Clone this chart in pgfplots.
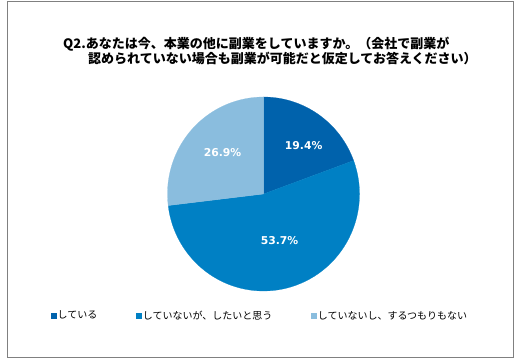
\documentclass[border=0pt]{standalone}
\usepackage{pgfplots}
\pgfplotsset{compat=1.18}
\usepackage{pgfplotstable}
\usepackage{fontspec}
\setmainfont{Noto Sans CJK JP}
\newfontfamily\jp{Noto Sans CJK JP}
\newfontfamily\dv{DejaVu Sans}
\definecolor{cA}{HTML}{0062AC}
\definecolor{cB}{HTML}{0080C4}
\definecolor{cC}{HTML}{8ABDDE}
\definecolor{frame}{HTML}{808080}
\pgfplotstableread{
label value
a 19.4
b 53.7
c 26.9
}\piedata
\begin{document}
\begin{tikzpicture}
\useasboundingbox (0pt,0pt) rectangle (522pt,364pt);
\draw[frame, line width=1pt] (7pt,6pt) rectangle (513pt,362pt);
\node[anchor=base west, inner sep=0pt, font=\jp\bfseries\fontsize{13}{15}\selectfont] at (63pt,315.5pt) {Q2.あなたは今、本業の他に副業をしていますか。（会社で副業が};
\node[anchor=base west, inner sep=0pt, font=\jp\bfseries\fontsize{13}{15}\selectfont] at (88pt,300.5pt) {認められていない場合も副業が可能だと仮定してお答えください）};
\pgfplotstablegetelem{0}{value}\of\piedata \let\va\pgfplotsretval
\pgfplotstablegetelem{1}{value}\of\piedata \let\vb\pgfplotsretval
\pgfplotstablegetelem{2}{value}\of\piedata \let\vc\pgfplotsretval
\pgfmathsetmacro\aA{90}
\pgfmathsetmacro\aB{90-3.6*\va}
\pgfmathsetmacro\aC{\aB-3.6*\vb}
\pgfmathsetmacro\aD{\aC-3.6*\vc}
\pgfmathsetmacro\xA{cos(\aA)}\pgfmathsetmacro\yA{sin(\aA)}
\pgfmathsetmacro\xB{cos(\aB)}\pgfmathsetmacro\yB{sin(\aB)}
\pgfmathsetmacro\xC{cos(\aC)}\pgfmathsetmacro\yC{sin(\aC)}
\begin{axis}[
  at={(263.5pt,170pt)}, anchor=origin,
  x=96pt, y=97pt,
  xmin=-1, xmax=1, ymin=-1, ymax=1,
  hide axis, clip=false,
  legend columns=3,
  legend image code/.code={\fill[#1, draw=none] (0pt,-2.75pt) rectangle (5.5pt,2.75pt);},
  legend style={at={(axis description cs:-0.607,-0.128)}, anchor=west,
    draw=none, fill=none, inner sep=0pt,
    font=\jp\fontsize{10}{12}\selectfont,
    nodes={inner sep=1pt},
    /tikz/every even column/.append style={column sep=38pt}},
]
\addplot[fill=cA, draw=cA, line width=0.2pt] coordinates {(0,0) (\xA,\yA)} arc[start angle=\aA, end angle=\aB, x radius=96pt, y radius=97pt] -- cycle;
\addlegendentry{している}
\addplot[fill=cB, draw=cB, line width=0.2pt] coordinates {(0,0) (\xB,\yB)} arc[start angle=\aB, end angle=\aC, x radius=96pt, y radius=97pt] -- cycle;
\addlegendentry{していないが、したいと思う}
\addplot[fill=cC, draw=cC, line width=0.2pt] coordinates {(0,0) (\xC,\yC)} arc[start angle=\aC, end angle=\aD, x radius=96pt, y radius=97pt] -- cycle;
\addlegendentry{していないし、するつもりもない}
\node[text=white, font=\dv\bfseries\fontsize{10.8}{12}\selectfont] at (axis cs:0.418,0.50) {19.4\%};
\node[text=white, font=\dv\bfseries\fontsize{10.8}{12}\selectfont] at (axis cs:0.167,-0.475) {53.7\%};
\node[text=white, font=\dv\bfseries\fontsize{10.8}{12}\selectfont] at (axis cs:-0.427,0.428) {26.9\%};
\end{axis}
\end{tikzpicture}
\end{document}
